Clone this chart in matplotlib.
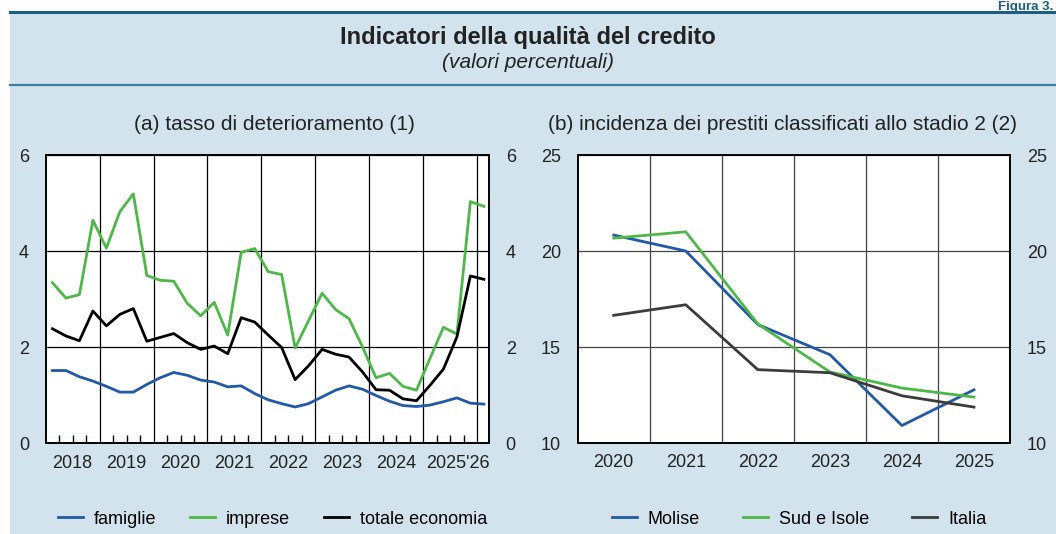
import matplotlib
matplotlib.use("Agg")
import matplotlib.pyplot as plt
import matplotlib.transforms as mtrans
from matplotlib.patches import Rectangle
from matplotlib.lines import Line2D
import pandas as pd

plt.rcParams['font.family'] = ['Liberation Sans', 'DejaVu Sans']

# (a) tasso di deterioramento, quarterly 2018Q1 - 2026Q1
quarters = pd.period_range("2018Q1", "2026Q1", freq="Q")
famiglie = [1.51, 1.51, 1.38, 1.29, 1.18, 1.06, 1.06, 1.22, 1.36, 1.47, 1.41,
            1.31, 1.27, 1.17, 1.19, 1.03, 0.90, 0.82, 0.75, 0.82, 0.96, 1.10,
            1.19, 1.12, 0.99, 0.87, 0.78, 0.76, 0.79, 0.86, 0.94, 0.83, 0.81]
imprese = [3.34, 3.02, 3.09, 4.64, 4.06, 4.82, 5.19, 3.49, 3.39, 3.37, 2.91,
           2.65, 2.93, 2.25, 3.97, 4.05, 3.57, 3.51, 1.98, 2.55, 3.12, 2.78,
           2.59, 2.00, 1.36, 1.45, 1.18, 1.10, 1.76, 2.41, 2.27, 5.03, 4.93]
totale = [2.38, 2.23, 2.13, 2.75, 2.44, 2.68, 2.80, 2.12, 2.20, 2.28, 2.09,
          1.95, 2.02, 1.86, 2.61, 2.52, 2.25, 1.99, 1.32, 1.61, 1.95, 1.85,
          1.79, 1.48, 1.11, 1.10, 0.92, 0.88, 1.20, 1.54, 2.21, 3.48, 3.41]
year_labels_a = ["2018", "2019", "2020", "2021", "2022", "2023", "2024", "2025'26"]

# (b) incidenza dei prestiti classificati allo stadio 2
years_b = ["2020", "2021", "2022", "2023", "2024", "2025"]
molise = [20.83, 20.0, 16.17, 14.6, 10.91, 12.77]
sud_isole = [20.67, 21.0, 16.2, 13.7, 12.86, 12.39]
italia = [16.65, 17.2, 13.82, 13.66, 12.46, 11.87]

BLUE = '#2159a8'
GREEN = '#4db848'
BLACK = '#000000'
GREY = '#3c3c3c'
BG = '#d2e3ee'
TEAL = '#1b5f82'
TXT = '#222222'

W, H = 1056, 534
fig = plt.figure(figsize=(W / 100, H / 100), dpi=100)
fig.patch.set_facecolor('white')

# header / background
fig.patches.append(Rectangle((10 / W, 0), 1 - 10 / W, 1 - 12 / H, transform=fig.transFigure,
                             facecolor=BG, edgecolor='none', zorder=-10))
fig.add_artist(Line2D([10 / W, 1], [1 - 12 / H] * 2, color=TEAL, lw=2.2, transform=fig.transFigure))
fig.add_artist(Line2D([10 / W, 1], [1 - 85 / H] * 2, color='#3b7fa1', lw=1.6, transform=fig.transFigure))
fig.text(1053 / W, 1 - 10 / H, "Figura 3.", ha='right', va='baseline', fontsize=9.5,
         fontweight='bold', color=TEAL)
fig.text(527.5 / W, 1 - 37 / H, "Indicatori della qualità del credito", ha='center', va='center',
         fontsize=17, fontweight='bold', color=TXT)
fig.text(527.5 / W, 1 - 62 / H, "(valori percentuali)", ha='center', va='center',
         fontsize=15, style='italic', color=TXT)

FS = 13


def style_axes(ax):
    ax.set_facecolor('white')
    for sp in ax.spines.values():
        sp.set_linewidth(1.4)
        sp.set_color('black')
    ax.tick_params(axis='y', which='both', length=0, labelsize=FS, labelcolor=TXT,
                   left=True, right=True, labelleft=True, labelright=True, pad=12)
    ax.tick_params(axis='x', which='major', length=0, labelsize=FS, labelcolor=TXT)


# ---- panel (a)
axa = fig.add_axes([45.7 / W, (H - 443) / H, (489 - 45.7) / W, 288 / H])
style_axes(axa)
xq = [p.year + (p.quarter - 0.5) / 4 for p in quarters]
axa.plot(xq, famiglie, color=BLUE, lw=2, label='famiglie', zorder=3)
axa.plot(xq, imprese, color=GREEN, lw=2, label='imprese', zorder=3)
axa.plot(xq, totale, color=BLACK, lw=2, label='totale economia', zorder=3)
axa.set_xlim(2018, 2026.22)
axa.set_ylim(0, 6)
axa.set_yticks([0, 2, 4, 6])
axa.set_xticks(range(2019, 2027))
axa.set_xticklabels([])
axa.set_xticks([y + q / 4 for y in range(2018, 2026) for q in (1, 2, 3)] + [2026.0],
               minor=True)
axa.tick_params(axis='x', which='minor', direction='in', length=5.5, width=1, color='black')
axa.grid(True, which='major', color='black', lw=0.9)
axa.set_axisbelow(True)
label_x = [2018.5 + i for i in range(7)] + [2025.65]
tr = mtrans.blended_transform_factory(axa.transData, axa.transAxes)
for xv, lab in zip(label_x, year_labels_a):
    axa.text(xv, -0.07, lab, transform=tr, ha='center', va='center', fontsize=FS, color=TXT)
fig.text(274 / W, 1 - 125 / H, "(a) tasso di deterioramento (1)", ha='center',
         va='center', fontsize=15, color=TXT)
fig.legend(handles=axa.get_lines(), loc='center', bbox_to_anchor=(272.5 / W, 1 - 519 / H),
           ncol=3, frameon=False, fontsize=FS, handlelength=1.38, columnspacing=1.9,
           handletextpad=0.6)

# ---- panel (b)
axb = fig.add_axes([577.7 / W, (H - 443) / H, (1010 - 577.7) / W, 288 / H])
style_axes(axb)
xb = range(len(years_b))
axb.plot(xb, molise, color=BLUE, lw=2, label='Molise', zorder=3)
axb.plot(xb, sud_isole, color=GREEN, lw=2, label='Sud e Isole', zorder=3)
axb.plot(xb, italia, color=GREY, lw=2, label='Italia', zorder=3)
axb.set_xlim(-0.5, len(years_b) - 0.5)
axb.set_ylim(10, 25)
axb.set_yticks([10, 15, 20, 25])
axb.set_xticks(list(xb))
axb.set_xticklabels(years_b)
axb.tick_params(axis='x', pad=8)
axb.set_xticks([i + 0.5 for i in range(len(years_b) - 1)], minor=True)
axb.tick_params(axis='x', which='minor', length=0)
axb.grid(True, which='minor', axis='x', color='#444444', lw=0.9)
axb.grid(True, which='major', axis='y', color='#444444', lw=0.9)
axb.set_axisbelow(True)
fig.text(783 / W, 1 - 125 / H, "(b) incidenza dei prestiti classificati allo stadio 2 (2)",
         ha='center', va='center', fontsize=15, color=TXT)
fig.legend(handles=axb.get_lines(), loc='center', bbox_to_anchor=(799 / W, 1 - 519 / H),
           ncol=3, frameon=False, fontsize=FS, handlelength=1.38, columnspacing=2.4,
           handletextpad=0.6)

fig.savefig("out.png", dpi=100, facecolor=fig.get_facecolor())
